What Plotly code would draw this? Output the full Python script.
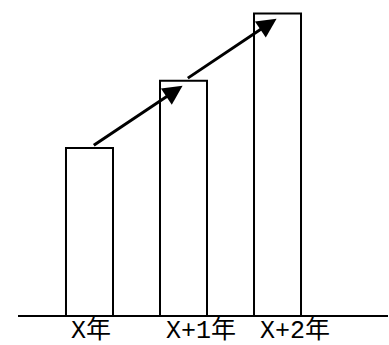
import plotly.graph_objects as go

# three years, bar heights
years = ["X年", "X+1年", "X+2年"]
values = [100, 140, 180]

fig = go.Figure(go.Bar(
    x=list(range(len(years))), y=values, width=0.5,
    marker=dict(color="white", line=dict(color="black", width=2)),
))

# growth arrows from one bar top to the next
for i in range(len(values) - 1):
    fig.add_annotation(
        x=i + 1 - 0.01, y=values[i + 1] - 3,
        ax=i + 0.03, ay=values[i] + 1,
        xref="x", yref="y", axref="x", ayref="y",
        text="", showarrow=True,
        arrowhead=2, arrowsize=1.3, arrowwidth=3, arrowcolor="black",
    )

# year labels, left aligned just inside each bar
for i, lab in enumerate(years):
    fig.add_annotation(
        x=i, y=0, text=lab, showarrow=False,
        xanchor="left", yanchor="top", xshift=-19, yshift=1, borderpad=0,
        font=dict(family="Liberation Mono, Noto Sans CJK SC", size=25, color="black"),
    )

# baseline
fig.add_shape(type="line", xref="paper", yref="y",
              x0=18 / 389, x1=388 / 389, y0=0, y1=0,
              line=dict(color="black", width=2))

fig.update_layout(
    width=389, height=345, autosize=False,
    margin=dict(l=0, r=0, t=0, b=0),
    paper_bgcolor="white", plot_bgcolor="white",
    showlegend=False,
    xaxis=dict(range=[-0.952, 3.186], visible=False),
    yaxis=dict(range=[-17.26, 188.1], visible=False),
)

fig.write_html("out.html", config={"displayModeBar": False},
               post_script="document.body.style.margin='0';")
